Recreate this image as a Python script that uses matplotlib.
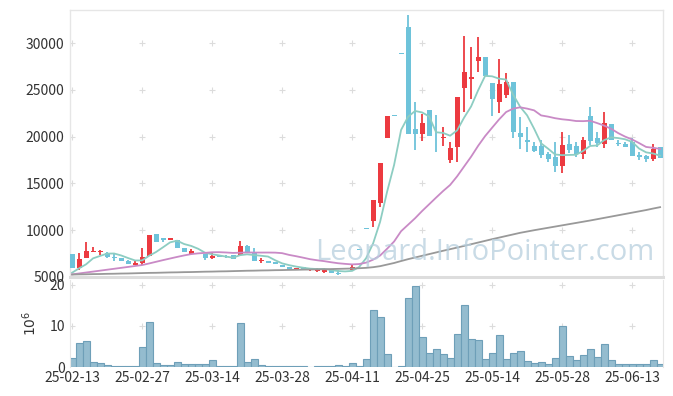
import matplotlib
matplotlib.use('Agg')
import matplotlib.pyplot as plt
import numpy as np
import pandas as pd

plt.rcParams['font.family'] = ['Noto Sans CJK KR', 'DejaVu Sans']

# daily prices (85 trading days, 25-02-13 .. 25-06-19)
open_ = [7450, 5960, 6970, 7610, 7610, 7500, 7100, 7040, 6680, 6250,
         6500, 7220, 9540, 9110, 8930, 8930, 8100, 7400, 7570, 7430,
         6970, 7320, 7200, 7320, 7320, 8290, 7680, 6680, 6680, 6610,
         6250, 6070, 5720, 6040, 5750, 5610, 5540, 5790, 5430, 5470,
         5720, 7870, 10110, 11000, 12930, 19820, 22220, 28860, 31710, 20820,
         20250, 22850, 20370, 19880, 17500, 18920, 25180, 26140, 28130, 28500,
         25710, 23740, 24460, 25890, 20360, 19640, 19000, 19000, 18140, 17850,
         16890, 19210, 19000, 18110, 22210, 19890, 19180, 21350, 19350, 19210,
         19390, 18030, 17930, 17610, 18860]
high = [7450, 7500, 8680, 8210, 7900, 7680, 7400, 7040, 6790, 6790,
        8100, 9470, 9540, 9110, 9110, 8930, 8100, 7970, 7570, 7430,
        7500, 7320, 7320, 7320, 8820, 8400, 8040, 6970, 6680, 6610,
        6250, 6070, 5960, 6040, 5960, 5900, 5900, 5790, 5720, 5610,
        6330, 7870, 10110, 13210, 17150, 22210, 22220, 28860, 33060, 23740,
        22420, 22850, 22320, 21070, 19460, 24280, 30780, 29630, 30640, 28500,
        25710, 28310, 26850, 25890, 22140, 21070, 19460, 19640, 18390, 19460,
        20530, 20180, 19460, 20000, 23210, 20530, 22640, 21350, 19640, 19460,
        19820, 18390, 18030, 19250, 18860]
low = [5900, 5700, 6970, 7610, 7300, 6970, 6710, 6710, 6330, 6250,
       6250, 7220, 8750, 8750, 8930, 8040, 7680, 7400, 7400, 6790,
       6900, 7080, 6970, 6860, 7320, 7570, 6680, 6430, 6430, 6330,
       6000, 5720, 5720, 5820, 5610, 5470, 5360, 5360, 5180, 5470,
       5720, 7850, 10090, 10360, 12500, 19820, 22200, 28840, 20250, 18570,
       19500, 20070, 18390, 19030, 17140, 17320, 22670, 24000, 26960, 26500,
       22240, 22500, 24100, 19890, 18680, 18390, 18320, 17680, 17320, 16250,
       16070, 18220, 17850, 17610, 19100, 18920, 18820, 19640, 19000, 18860,
       17930, 17500, 17320, 17420, 17740]
close = [5900, 6900, 7750, 7790, 7790, 7140, 6970, 6710, 6390, 6500,
         7140, 9470, 8750, 8930, 9110, 8040, 7680, 7750, 7400, 6970,
         7220, 7080, 7080, 6860, 8290, 7680, 6680, 6720, 6430, 6330,
         6000, 5720, 5960, 5820, 5820, 5790, 5790, 5360, 5290, 5610,
         6070, 7850, 10090, 13210, 17150, 22210, 22200, 28840, 20250, 20250,
         21430, 20070, 20350, 19900, 18750, 24280, 26890, 26350, 28500, 26500,
         24070, 25610, 25890, 20470, 19990, 19460, 18460, 18030, 17610, 16890,
         19100, 18570, 18140, 19640, 19570, 19350, 21430, 19640, 19250, 18920,
         17960, 17850, 17610, 18640, 17740]

# volume, millions
volume = [2.2, 5.8, 6.3, 1.2, 1.0, 0.5, 0.2, 0.2, 0.2, 0.2,
          4.8, 10.9, 1.0, 0.5, 0.5, 1.2, 0.7, 0.7, 0.7, 0.7,
          1.7, 0.2, 0.2, 0.2, 10.6, 1.2, 1.9, 0.5, 0.2, 0.2,
          0.2, 0.2, 0.2, 0.2, 0.0, 0.2, 0.2, 0.2, 0.5, 0.2,
          1.0, 0.2, 1.9, 13.8, 12.1, 3.1, 0.0, 0.2, 16.9, 19.7,
          7.3, 3.4, 4.4, 3.1, 2.2, 8.0, 15.0, 6.8, 6.5, 1.9,
          3.4, 7.7, 1.9, 3.4, 3.9, 1.5, 1.0, 1.2, 0.7, 2.2,
          9.9, 2.7, 1.7, 2.9, 4.4, 2.4, 5.6, 1.7, 0.7, 0.7,
          0.7, 0.7, 0.7, 1.7, 0.7]

# moving average values before enough days are in the window
ma5_head = [5430, 5900, 6330, 6970]
ma20_head = [5250, 5350, 5450, 5550, 5650, 5750, 5850, 5950, 6050, 6150,
             6250, 6420, 6600, 6780, 6950, 7120, 7280, 7420, 7500]
# 120-day average
ma120 = [5230, 5250, 5260, 5280, 5290, 5310, 5320, 5340, 5350, 5370,
         5390, 5410, 5420, 5440, 5460, 5470, 5490, 5500, 5520, 5540,
         5550, 5570, 5580, 5600, 5620, 5640, 5650, 5670, 5680, 5700,
         5710, 5730, 5740, 5760, 5770, 5790, 5800, 5820, 5840, 5860,
         5880, 5910, 5950, 6020, 6130, 6300, 6470, 6680, 6880, 7060,
         7240, 7420, 7600, 7780, 7950, 8120, 8300, 8480, 8660, 8840,
         9020, 9190, 9360, 9530, 9700, 9840, 9980, 10110, 10240, 10370,
         10500, 10630, 10760, 10890, 11020, 11160, 11300, 11440, 11580, 11720,
         11860, 12000, 12140, 12300, 12450]

tick_labels = ['25-02-13', '25-02-27', '25-03-14', '25-03-28', '25-04-11',
               '25-04-25', '25-05-14', '25-05-28', '25-06-13']

UP = '#ec3a40'
DOWN = '#6ec3da'
GRID = '#dcdcdc'
SPINE = '#e6e6e6'

o = np.array(open_, float)
c = np.array(close, float)
x = np.arange(len(c))
up = c >= o
col = np.where(up, UP, DOWN)

ma5 = pd.Series(c).rolling(5).mean().to_numpy()
ma5[:4] = ma5_head
ma20 = pd.Series(c).rolling(20).mean().to_numpy()
ma20[:19] = ma20_head

fig = plt.figure(figsize=(6.73, 3.96), dpi=100)
ax = fig.add_axes([0.104, 0.3005, 0.881, 0.6742])
axv = fig.add_axes([0.104, 0.0732, 0.881, 0.2198], sharex=ax)

xt = np.arange(0, 81, 10)
yt = np.arange(5000, 30001, 5000)

# grid crosses
gx, gy = np.meshgrid(xt, yt[1:])
ax.plot(gx.ravel(), gy.ravel(), '+', color=GRID, ms=5, mew=0.8, zorder=0)

ax.vlines(x, low, high, colors=col, lw=1.3, zorder=2)
body = np.maximum(np.abs(c - o), 80)
ax.bar(x, body, bottom=np.minimum(o, c), width=0.72, color=col, zorder=3)

ax.plot(x, ma5, color='#8dcdc2', lw=1.3, zorder=4)
ax.plot(x, ma20, color='#c98ac6', lw=1.3, zorder=4)
ax.plot(x, ma120, color='#999999', lw=1.3, zorder=4)

ax.text(0.70, 0.09, 'Leopard.InfoPointer.com', transform=ax.transAxes,
        ha='center', va='center', fontsize=21, color='#b7cfde', alpha=0.75,
        family=['Open Sans', 'DejaVu Sans'], zorder=5)

ax.set_xlim(-0.3, 84.4)
ax.set_ylim(4970, 33560)
ax.set_yticks(yt)
ax.set_yticklabels([str(v) for v in yt])
ax.tick_params(axis='y', length=0, labelsize=10, colors='#333333', pad=4)
ax.tick_params(axis='x', length=0, labelbottom=False)
for s in ax.spines.values():
    s.set_color(SPINE)
    s.set_linewidth(1)
ax.spines['bottom'].set_linewidth(2.2)
ax.spines['bottom'].set_color('#dddddd')

# volume
vx, vy = np.meshgrid(xt, [10, 20])
axv.plot(vx.ravel(), vy.ravel(), '+', color=GRID, ms=5, mew=0.8, zorder=0)
axv.bar(x, volume, width=1.0, color='#94bccf', edgecolor='#6e9fb8',
        linewidth=0.8, zorder=2)
axv.set_ylim(0, 21.2)
axv.set_yticks([0, 10, 20])
axv.set_xticks(xt)
axv.set_xticklabels(tick_labels)
axv.tick_params(length=0, labelsize=10, colors='#333333')
axv.tick_params(axis='x', pad=3)
axv.set_ylabel(r'$10^{6}$', fontsize=10, color='#333333', labelpad=8)
for s in axv.spines.values():
    s.set_color(SPINE)
axv.spines['bottom'].set_visible(False)
axv.spines['top'].set_visible(False)

fig.savefig('out.png', dpi=100)
